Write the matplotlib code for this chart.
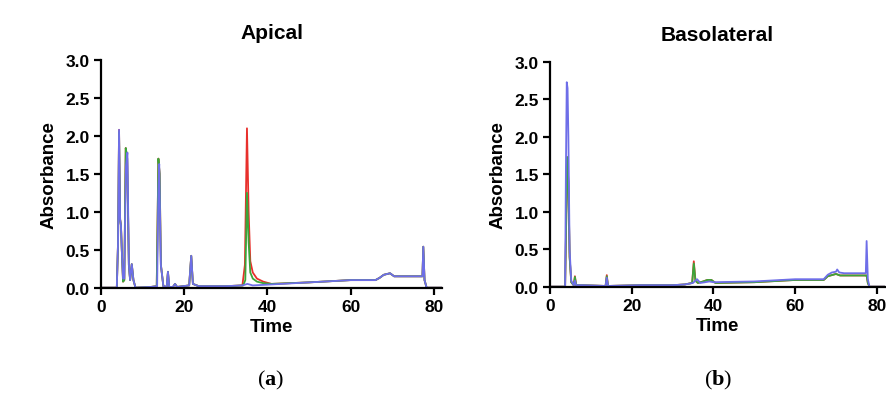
import matplotlib
matplotlib.use("Agg")
import matplotlib.pyplot as plt

plt.rcParams['font.family'] = ['Liberation Sans', 'DejaVu Sans']
plt.rcParams['mathtext.fontset'] = 'custom'
plt.rcParams['mathtext.rm'] = 'Liberation Serif'
plt.rcParams['mathtext.bf'] = 'Liberation Serif:bold'

# ---------------- data ----------------
panel_titles = ["Apical", "Basolateral"]
panel_tags = ["a", "b"]
x_ticks = [0, 20, 40, 60, 80]
y_ticks = [0.0, 0.5, 1.0, 1.5, 2.0, 2.5, 3.0]

# Apical
ap_red_t = [0, 3.8, 4.1, 4.34, 4.6, 4.8, 5.0, 5.3, 5.6, 5.95, 6.3, 6.7, 7.0, 7.4, 7.8, 8.3,
            12, 13.4, 13.8, 14.1, 14.4, 15.0, 15.8, 16.1, 16.4, 17.3, 17.8, 18.3, 21.2, 21.7,
            22.1, 23.5, 30, 34.0, 34.6, 35.1, 35.5, 35.9, 36.5, 37.5, 39, 41, 50, 60, 66, 67,
            68, 69.5, 70.5, 77.3, 77.5, 77.8, 78.3, 82]
ap_red_y = [0, 0, 0.6, 2.08, 0.9, 0.82, 0.5, 0.08, 0.1, 1.84, 1.7, 0.3, 0.1, 0.31, 0.1, 0.0,
            0.01, 0.02, 1.70, 1.5, 0.3, 0.02, 0.01, 0.21, 0.01, 0.01, 0.05, 0.01, 0.03, 0.42,
            0.05, 0.02, 0.02, 0.03, 0.3, 2.10, 1.0, 0.35, 0.2, 0.12, 0.08, 0.05, 0.07, 0.10, 0.10, 0.13,
            0.17, 0.19, 0.15, 0.15, 0.54, 0.10, 0.0, 0.0]
ap_green_t = [0, 3.8, 4.1, 4.34, 4.6, 4.8, 5.0, 5.3, 5.6, 5.95, 6.3, 6.7, 7.0, 7.4, 7.8, 8.3,
              12, 13.4, 13.8, 14.1, 14.4, 15.0, 15.8, 16.1, 16.4, 17.3, 17.8, 18.3, 21.2, 21.7,
              22.1, 23.5, 30, 34.2, 34.7, 35.1, 35.5, 35.9, 36.5, 37.5, 39, 41, 50, 60, 66, 67,
              68, 69.5, 70.5, 77.3, 77.5, 77.8, 78.3, 82]
ap_green_y = [0, 0, 0.6, 2.05, 0.9, 0.82, 0.5, 0.08, 0.1, 1.84, 1.7, 0.3, 0.1, 0.31, 0.1, 0.0,
              0.01, 0.02, 1.70, 1.5, 0.3, 0.02, 0.01, 0.21, 0.01, 0.01, 0.05, 0.01, 0.03, 0.42,
              0.05, 0.02, 0.02, 0.03, 0.1, 1.25, 0.6, 0.2, 0.12, 0.08, 0.06, 0.05, 0.07, 0.10, 0.10, 0.13,
              0.17, 0.19, 0.15, 0.15, 0.54, 0.10, 0.0, 0.0]
ap_blue_t = [0, 3.8, 4.1, 4.34, 4.6, 4.8, 5.0, 5.3, 5.6, 6.0, 6.35, 6.7, 7.0, 7.4, 7.8, 8.3,
             12, 13.5, 13.8, 14.0, 14.4, 15.0, 15.8, 16.1, 16.4, 17.3, 17.8, 18.3, 21.2, 21.7,
             22.1, 23.5, 30, 34, 35.2, 36.5, 40, 50, 60, 66, 67,
             68, 69.5, 70.5, 77.3, 77.5, 77.8, 78.3, 82]
ap_blue_y = [0, 0, 0.6, 2.08, 0.9, 0.82, 0.5, 0.12, 0.12, 1.6, 1.78, 0.3, 0.1, 0.31, 0.1, 0.0,
             0.01, 0.02, 1.3, 1.63, 0.3, 0.02, 0.01, 0.21, 0.01, 0.01, 0.05, 0.01, 0.03, 0.42,
             0.05, 0.02, 0.02, 0.03, 0.05, 0.03, 0.04, 0.07, 0.10, 0.10, 0.13,
             0.17, 0.19, 0.15, 0.15, 0.54, 0.10, 0.0, 0.0]

# Basolateral
bl_red_t = [0, 3.7, 4.0, 4.2, 4.5, 4.8, 5.2, 5.8, 6.1, 6.4, 8, 13.6, 13.9, 14.2, 22, 30, 33,
            34.8, 35.2, 35.6, 36.2, 37.5, 38.5, 39.5, 40.5, 50, 60, 67, 68, 70, 71, 77.3, 77.5,
            77.8, 78.2, 82]
bl_red_y = [0, 0, 1.0, 1.73, 1.4, 0.4, 0.06, 0.02, 0.14, 0.02, 0.02, 0.01, 0.155, 0.01, 0.02, 0.02,
            0.03, 0.05, 0.34, 0.08, 0.05, 0.07, 0.09, 0.09, 0.05, 0.06, 0.09, 0.09, 0.14, 0.17, 0.15,
            0.15, 0.15, 0.05, 0.0, 0.0]
bl_green_t = [0, 3.7, 4.0, 4.2, 4.5, 4.8, 5.2, 5.8, 6.1, 6.4, 8, 13.6, 13.9, 14.2, 22, 30, 33,
              34.8, 35.2, 35.6, 36.2, 37.5, 38.5, 39.5, 40.5, 50, 60, 67, 68, 70, 71, 77.3, 77.5,
              77.8, 78.2, 82]
bl_green_y = [0, 0, 1.0, 1.73, 1.4, 0.4, 0.06, 0.02, 0.13, 0.02, 0.02, 0.01, 0.14, 0.01, 0.02, 0.02,
              0.03, 0.05, 0.31, 0.08, 0.05, 0.07, 0.09, 0.09, 0.05, 0.06, 0.09, 0.09, 0.14, 0.17, 0.15,
              0.15, 0.15, 0.05, 0.0, 0.0]
bl_blue_t = [0, 3.7, 3.9, 4.1, 4.3, 4.5, 4.8, 5.2, 5.8, 6.1, 6.4, 8, 13.6, 13.9, 14.2, 22, 30, 33,
             35, 36, 36.8, 38, 39, 40, 50, 60, 67, 68, 69, 70, 70.3, 70.8, 72, 77.3, 77.5,
             77.8, 78.2, 82]
bl_blue_y = [0, 0, 1.6, 2.73, 2.65, 2.0, 0.5, 0.08, 0.02, 0.08, 0.02, 0.02, 0.01, 0.12, 0.01, 0.02, 0.02,
             0.03, 0.05, 0.10, 0.05, 0.06, 0.07, 0.06, 0.07, 0.10, 0.10, 0.16, 0.19, 0.20, 0.23, 0.19,
             0.18, 0.18, 0.61, 0.10, 0.0, 0.0]

panels = [
    [(ap_red_t, ap_red_y), (ap_green_t, ap_green_y), (ap_blue_t, ap_blue_y)],
    [(bl_red_t, bl_red_y), (bl_green_t, bl_green_y), (bl_blue_t, bl_blue_y)],
]
colors = ["#e8302c", "#3aa63a", "#6e6ee8"]

# ---------------- figure ----------------
W, H = 886, 414
fig = plt.figure(figsize=(W / 100, H / 100), dpi=100)

boxes = [
    (101 / W, 1 - 288.7 / H, (442 - 101) / W, (288.7 - 61) / H),
    (550 / W, 1 - 287.7 / H, (885 - 550) / W, (287.7 - 63) / H),
]
tag_x = [271, 718]

for i, (box, series) in enumerate(zip(boxes, panels)):
    ax = fig.add_axes(box)
    for (t, y), c in zip(series, colors):
        ax.plot(t, y, color=c, lw=1.3, solid_joinstyle='round')
    ax.set_xlim(0, 82)
    ax.set_ylim(0, 3.0)
    ax.set_xticks(x_ticks)
    ax.set_yticks(y_ticks)
    ax.set_yticklabels([f"{v:.1f}" for v in y_ticks])
    for s in ["top", "right"]:
        ax.spines[s].set_visible(False)
    for s in ["left", "bottom"]:
        ax.spines[s].set_linewidth(1.6)
    ax.tick_params(direction='out', length=5, width=1.6, labelsize=12.5, pad=3)
    for lab in ax.get_xticklabels() + ax.get_yticklabels():
        lab.set_fontweight('bold')
    ax.set_xlabel("Time", fontsize=13.5, fontweight='bold', labelpad=3)
    ax.set_ylabel("Absorbance", fontsize=13.5, fontweight='bold', labelpad=6)
    ax.set_title(panel_titles[i], fontsize=15, fontweight='bold', pad=16)
    fig.text(tag_x[i] / W, 1 - 380 / H, r"($\mathbf{" + panel_tags[i] + r"}$)",
             fontsize=16, family='Liberation Serif', ha='center', va='center')

fig.savefig("out.png", dpi=100)
